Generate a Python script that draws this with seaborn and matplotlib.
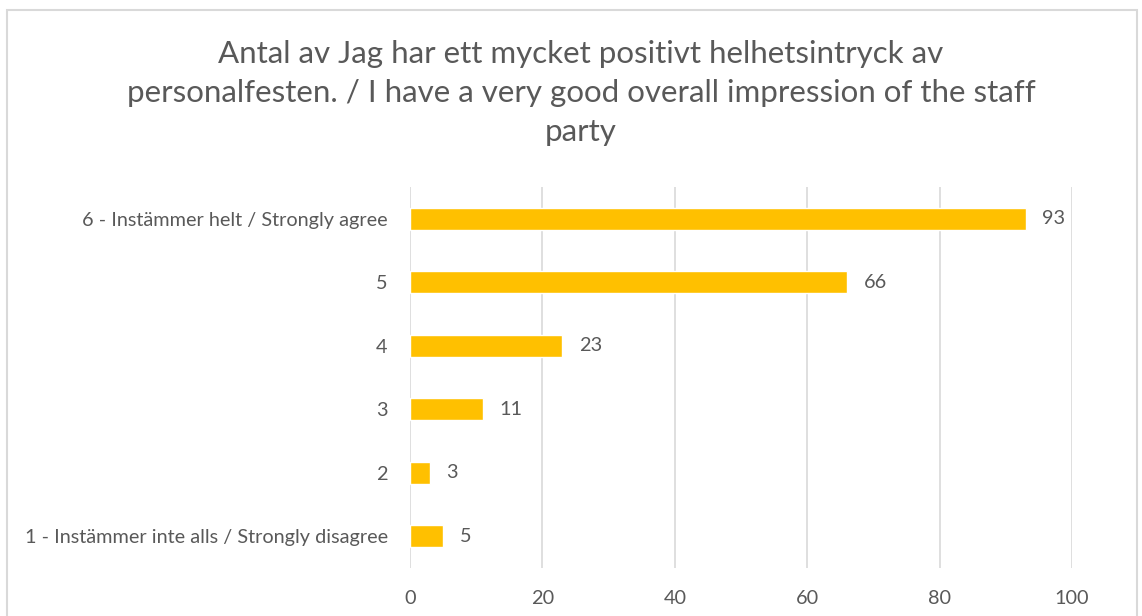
import matplotlib
matplotlib.use("Agg")
import matplotlib.pyplot as plt
import seaborn as sns
import pandas as pd
from matplotlib.patches import Rectangle

categories = ["6 - Instämmer helt / Strongly agree", "5", "4", "3", "2",
              "1 - Instämmer inte alls / Strongly disagree"]
values = [93, 66, 23, 11, 3, 5]
xticks = [0, 20, 40, 60, 80, 100]
title = ("Antal av Jag har ett mycket positivt helhetsintryck av\n"
         "personalfesten. / I have a very good overall impression of the staff\n"
         "party")

sns.set_theme(style="white")
plt.rcParams['font.family'] = ['Lato', 'DejaVu Sans']

W, H = 1142, 616
fig = plt.figure(figsize=(W / 100, H / 100), dpi=100)
ax = fig.add_axes([410 / W, 1 - 568 / H, (1072 - 410) / W, (568 - 187) / H])

df = pd.DataFrame({"cat": categories, "val": values})
sns.barplot(data=df, x="val", y="cat", ax=ax, color="#FFC000", width=0.35,
            saturation=1, orient="h")

ax.set_xlim(0, 100)
ax.set_xticks(xticks)
ax.grid(axis="x", color="#D9D9D9", linewidth=1.2)
ax.set_axisbelow(True)
for s in ax.spines.values():
    s.set_visible(False)
ax.set_xlabel("")
ax.set_ylabel("")
ax.tick_params(axis="both", length=0, labelsize=14.3, colors="#595959")
ax.tick_params(axis="y", pad=16)
ax.tick_params(axis="x", pad=16)

for cont in ax.containers:
    ax.bar_label(cont, labels=[str(v) for v in values], padding=12,
                 fontsize=14.3, color="#595959")

fig.text(581 / W, 1 - 93 / H, title, ha="center", va="center", fontsize=22.5,
         color="#595959", linespacing=1.5)

fig.patches.append(Rectangle((7 / W, -0.05), (1137 - 7) / W, 1.05 - 10 / H,
                             transform=fig.transFigure, fill=False,
                             edgecolor="#D9D9D9", linewidth=1.5))

fig.savefig("out.png", dpi=100)
